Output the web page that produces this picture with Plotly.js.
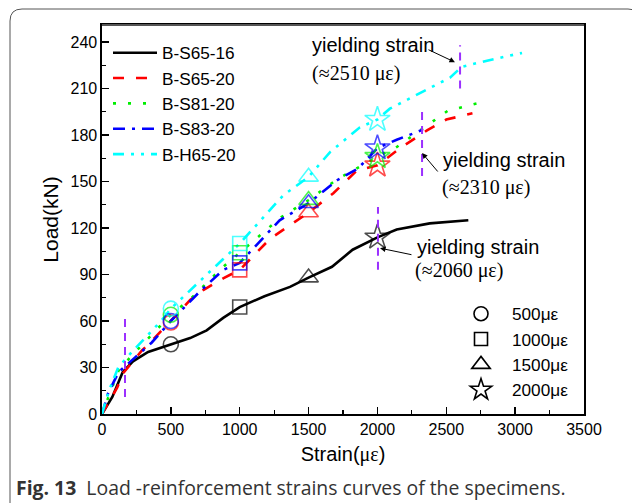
<!DOCTYPE html>
<html>
<head>
<meta charset="utf-8">
<script src="https://cdn.plot.ly/plotly-3.0.1.min.js"></script>
<style>html,body{margin:0;padding:0;background:#fff;}#chart{width:632px;height:503px;}</style>
</head>
<body>
<div id="chart"></div>
<script>
// ---- data ----
const seriesNames = ['B-S65-16', 'B-S65-20', 'B-S81-20', 'B-S83-20', 'B-H65-20'];
const strainS6516 = [0, 40, 75, 150, 225, 335, 500, 640, 760, 880, 1000, 1180, 1365, 1500, 1670, 1820, 2000, 2140, 2380, 2660];
const loadS6516   = [0, 6, 11, 27, 34, 40, 45, 49, 54, 62, 69, 76, 82, 88, 95, 106, 114, 119, 123, 125];
const strainS6520 = [0, 50, 110, 155, 290, 350, 500, 640, 735, 880, 1000, 1220, 1500, 1680, 1850, 2000, 2165, 2360, 2500, 2690];
const loadS6520   = [0, 8, 17, 26.5, 41, 46, 60, 73.5, 80, 87.5, 93, 113, 130, 142.5, 157, 160.5, 171.5, 183, 190, 194];
const strainS8120 = [0, 50, 120, 220, 435, 500, 640, 880, 1000, 1300, 1500, 1700, 2000, 2130, 2310, 2510, 2750];
const loadS8120   = [0, 12, 28, 38, 58, 64, 74, 95, 104, 127, 138, 151, 166, 171.6, 183, 195.6, 201];
const strainS8320 = [0, 45, 120, 360, 500, 710, 880, 1000, 1290, 1500, 1710, 1860, 2000, 2140, 2260, 2330];
const loadS8320   = [0, 13.5, 27, 46, 60, 79, 93, 97.5, 125, 136, 151, 158.5, 171.6, 177, 181, 183.5];
const strainH6520 = [0, 50, 118, 217, 435, 500, 880, 1000, 1315, 1500, 1656, 1873, 2000, 2090, 2330, 2527, 2612, 2796, 3050];
const loadH6520   = [0, 15, 30, 40, 60.6, 68, 100, 110, 141, 153, 169, 185, 190, 197, 208, 217, 224, 228, 233];

const markStrain = [500, 1000, 1500, 2000];
const markLabels = ['500\u03bc\u03b5', '1000\u03bc\u03b5', '1500\u03bc\u03b5', '2000\u03bc\u03b5'];
const markS6516 = [45, 69, 88, 114];
const markS6520 = [59, 93, 130, 160.5];
const markS8120 = [64, 104, 138, 166];
const markS8320 = [60, 97.5, 136, 171.6];
const markH6520 = [68, 110, 153, 190];

const yieldLineStrain = [167, 2004, 2324, 2600];
const yieldLineLow    = [11, 93, 153.5, 210];
const yieldLineHigh   = [63, 133.5, 198, 238];

const xTicks = [0, 500, 1000, 1500, 2000, 2500, 3000, 3500];
const yTicks = [0, 30, 60, 90, 120, 150, 180, 210, 240];

// ---- styles ----
const colors = ['#000000', '#ff0000', '#00ee00', '#0000ff', '#00ffff'];
const dashes = ['solid', '11px,12px', '3px,12px', '12px,7px,3px,7px', '11px,7px,3px,7px,3px,7px'];
const symbols = ['circle-open', 'square-open', 'triangle-up-open', 'star-open'];
const sizes = [15, 14, 17, 19];

const lineX = [strainS6516, strainS6520, strainS8120, strainS8320, strainH6520];
const lineY = [loadS6516, loadS6520, loadS8120, loadS8320, loadH6520];
const markY = [markS6516, markS6520, markS8120, markS8320, markH6520];

const traces = [];
for (let i = 0; i < 5; i++) {
  traces.push({
    x: lineX[i], y: lineY[i], type: 'scatter', mode: 'lines', name: seriesNames[i],
    line: {color: colors[i], width: 2.6, dash: dashes[i], shape: 'linear'},
    legend: 'legend', hoverinfo: 'skip'
  });
}
for (let i = 0; i < 5; i++) {
  traces.push({
    x: markStrain, y: markY[i], type: 'scatter', mode: 'markers', showlegend: false,
    marker: {symbol: symbols, size: sizes, color: colors[i], line: {color: colors[i], width: 1.6}},
    hoverinfo: 'skip'
  });
}
for (let k = 0; k < 4; k++) {
  traces.push({
    x: [null], y: [null], type: 'scatter', mode: 'markers', name: markLabels[k],
    legend: 'legend2',
    marker: {symbol: symbols[k], size: sizes[k] - 1, color: '#000', line: {color: '#000', width: 1.6}}
  });
}

const L = 102, R = 48, T = 25, B = 89, W = 632, H = 503;
const pw = W - L - R, ph = H - T - B;
const px = v => (v - L) / pw;
const py = v => (H - B - v) / ph;

const shapes = [];
for (let i = 0; i < yieldLineStrain.length; i++) {
  shapes.push({type: 'line', xref: 'x', yref: 'y', x0: yieldLineStrain[i], x1: yieldLineStrain[i],
    y0: yieldLineLow[i], y1: yieldLineHigh[i], line: {color: '#9b30ff', width: 2, dash: '8px,6px'}});
}
// top border of the plot box drawn a bit heavier and grey
shapes.push({type: 'line', xref: 'paper', yref: 'paper', x0: 0, x1: 1, y0: 1, y1: 1, line: {color: '#555', width: 2.2}});
// outer rounded frame
const r = 12;
const fx0 = 10, fy0 = 9, fx1 = 640, fy1 = 510;
shapes.push({type: 'path', xref: 'paper', yref: 'paper', layer: 'above',
  path: `M ${px(fx0)},${py(fy1)} L ${px(fx0)},${py(fy0 + r)} Q ${px(fx0)},${py(fy0)} ${px(fx0 + r)},${py(fy0)} L ${px(fx1 - r)},${py(fy0)} Q ${px(fx1)},${py(fy0)} ${px(fx1)},${py(fy0 + r)} L ${px(fx1)},${py(fy1)} Z`,
  line: {color: '#555', width: 1}});

const sans = 'Arial';
const serif = 'Times New Roman';
const annotations = [
  {x: 1510, y: 238, text: 'yielding strain', font: {family: sans, size: 20, color: '#000'}},
  {x: 1510, y: 220, text: '(\u22482510 \u03bc\u03b5)', font: {family: serif, size: 20, color: '#000'}},
  {x: 2462, y: 164, text: 'yielding strain', font: {family: sans, size: 20, color: '#000'}},
  {x: 2455, y: 146, text: '(\u22482310 \u03bc\u03b5)', font: {family: serif, size: 20, color: '#000'}},
  {x: 2273, y: 108, text: 'yielding strain', font: {family: sans, size: 20, color: '#000'}},
  {x: 2260, y: 92.5, text: '(\u22482060 \u03bc\u03b5)', font: {family: serif, size: 20, color: '#000'}}
].map(a => Object.assign({xref: 'x', yref: 'y', xanchor: 'left', yanchor: 'middle', showarrow: false}, a));

const arrows = [
  {tx: 2360, ty: 235.5, hx: 2563, hy: 227},
  {tx: 2447, ty: 155.5, hx: 2324, hy: 168.4},
  {tx: 2258, ty: 102.6, hx: 2019, hy: 107}
];
arrows.forEach(a => annotations.push({x: a.hx, y: a.hy, ax: a.tx, ay: a.ty, xref: 'x', yref: 'y', axref: 'x', ayref: 'y',
  showarrow: true, arrowhead: 2, arrowsize: 1.1, arrowwidth: 1, arrowcolor: '#000', text: ''}));

annotations.push({xref: 'paper', yref: 'paper', x: px(14), y: py(487), xanchor: 'left', yanchor: 'middle', showarrow: false,
  text: '<b>Fig. 13</b>  Load -reinforcement strains curves of the specimens.',
  font: {family: 'Open Sans', size: 19.4, color: '#333'}});

const layout = {
  width: W, height: H,
  margin: {l: L, r: R, t: T, b: B, pad: 0},
  paper_bgcolor: '#fff', plot_bgcolor: '#fff',
  showlegend: true,
  font: {family: sans},
  xaxis: {
    range: [0, 3500], tickvals: xTicks, ticktext: xTicks.map(String),
    ticks: 'inside', ticklen: 7, tickwidth: 1.3, tickcolor: '#000',
    minor: {dtick: 250, ticks: 'inside', ticklen: 4, tickwidth: 1.2, tickcolor: '#000', showgrid: false},
    showline: true, linecolor: '#000', linewidth: 1.6, mirror: true,
    showgrid: false, zeroline: false,
    tickfont: {family: sans, size: 16, color: '#000'},
    title: {text: 'Strain(<span style="font-family:Times New Roman">\u03bc\u03b5</span>)', font: {family: sans, size: 20, color: '#000'}, standoff: 10}
  },
  yaxis: {
    range: [0, 251], tickvals: yTicks, ticktext: yTicks.map(String),
    ticks: 'inside', ticklen: 7, tickwidth: 1.3, tickcolor: '#000',
    minor: {dtick: 15, ticks: 'inside', ticklen: 4, tickwidth: 1.2, tickcolor: '#000', showgrid: false},
    showline: true, linecolor: '#000', linewidth: 1.6, mirror: true,
    showgrid: false, zeroline: false,
    tickfont: {family: sans, size: 16, color: '#000'},
    title: {text: 'Load(kN)', font: {family: sans, size: 21, color: '#000'}, standoff: 6}
  },
  legend: {x: px(108), y: py(35), xanchor: 'left', yanchor: 'top', bgcolor: 'rgba(0,0,0,0)',
    font: {family: sans, size: 17.2, color: '#000'}, itemwidth: 44, tracegroupgap: 0},
  legend2: {x: px(450), y: py(296), xanchor: 'left', yanchor: 'top', bgcolor: 'rgba(0,0,0,0)',
    font: {family: sans, size: 17.2, color: '#000'}, itemwidth: 52},
  shapes: shapes,
  annotations: annotations
};

Plotly.newPlot('chart', traces, layout, {displayModeBar: false, staticPlot: true});
</script>
</body>
</html>
